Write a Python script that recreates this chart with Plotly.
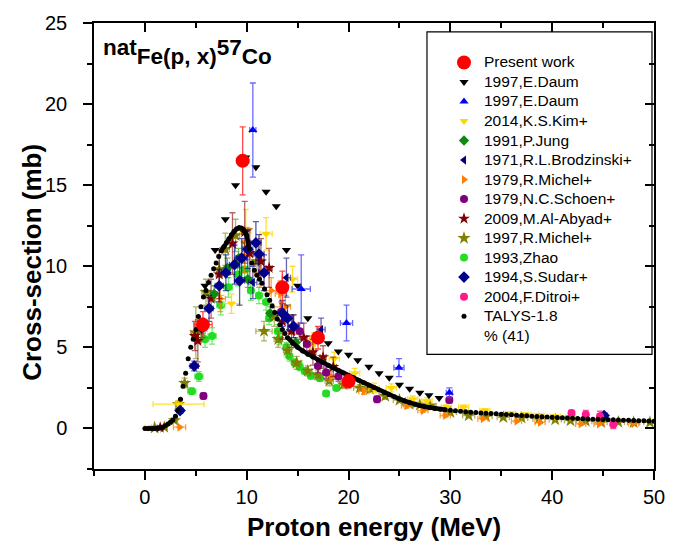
import plotly.graph_objects as go

# ---------------- data ----------------
pw_E = [5.7, 9.6, 13.5, 17.0, 20.0]
pw_S = [6.4, 16.5, 8.7, 5.6, 2.9]
pw_dE = [0.9, 0.6, 0.5, 0.5, 0.4]
pw_dS = [0.8, 2.1, 1.0, 0.7, 0.4]

daum1_E = [5.9, 6.9, 7.9, 8.9, 9.9, 10.9, 11.9, 12.9, 13.9, 15.0, 16.0, 17.0, 18.0, 19.0,
           20.0, 20.9, 22.0, 23.0, 24.0, 25.0, 26.0, 27.0, 27.9, 28.9]
daum1_S = [8.8, 11.0, 12.9, 15.0, 16.7, 16.1, 14.6, 13.7, 11.0, 8.8, 6.8, 5.8, 5.25, 4.75,
           4.55, 4.2, 3.8, 3.4, 3.13, 2.7, 2.45, 2.2, 2.05, 1.88]

daum2_E = [10.6, 15.35, 19.8, 24.95, 29.9]
daum2_S = [18.4, 8.6, 6.5, 3.75, 2.2]
daum2_dE = [0.3, 0.9, 0.6, 0.5, 0.3]
daum2_dS = [2.9, 2.1, 1.1, 0.55, 0.3]

kim_E = [0.3, 3.3, 8.5, 9.9, 11.9, 14.5, 16.6, 18.6, 20.6, 22.5, 24.2, 26.3, 27.7, 29.6,
         31.3, 33.4, 35.9, 37.4, 38.7, 40.3, 41.8]
kim_S = [0.05, 1.5, 7.7, 12.2, 12.0, 9.2, 5.4, 4.3, 3.4, 2.5, 2.5, 1.8, 1.7, 1.3,
         1.3, 1.1, 0.92, 0.86, 0.8, 0.74, 0.7]
kim_dE = [0.3, 2.5, 0.8, 0.5, 0.6, 0.5, 0.5, 0.5, 0.5, 0.5, 0.5, 0.5, 0.5, 0.5,
          0.5, 0.5, 0.5, 0.5, 0.5, 0.5, 0.5]
kim_dS = [0.05, 0.2, 0.6, 1.3, 1.0, 0.8, 0.5, 0.4, 0.3, 0.3, 0.25, 0.2, 0.2, 0.15,
          0.15, 0.12, 0.1, 0.1, 0.1, 0.1, 0.1]

jung_E = [6.8, 8.1, 9.2, 10.1, 12.3, 14.8]
jung_S = [8.3, 9.9, 10.5, 9.2, 7.1, 5.3]
jung_dE = [0.3, 0.3, 0.3, 0.3, 0.3, 0.3]
jung_dS = [0.5, 0.6, 0.6, 0.5, 0.4, 0.3]

brz_E = [10.6, 13.9, 17.3]
brz_S = [9.0, 9.3, 6.1]
brz_dE = [0.4, 0.4, 0.4]
brz_dS = [1.0, 1.2, 0.7]

mic79_E = [3.4, 7.4, 9.8, 11.3, 12.4, 13.3, 13.8, 14.6, 16.2, 18.3, 21.5, 25.7, 27.3, 29.5,
           33.2, 36.5, 38.8, 42.8, 44.6, 48.0]
mic79_S = [0.08, 8.0, 10.6, 9.6, 8.5, 8.3, 7.5, 6.4, 5.2, 3.2, 2.3, 1.4, 1.1, 0.8,
           0.6, 0.45, 0.38, 0.28, 0.28, 0.3]
mic79_dE = [0.6, 0.5, 0.5, 0.5, 0.5, 0.5, 0.5, 0.5, 0.5, 0.5, 0.5, 0.5, 0.5, 0.5,
            0.5, 0.5, 0.5, 0.5, 0.5, 0.5]
mic79_dS = [0.05, 0.8, 1.0, 0.9, 0.8, 0.8, 0.7, 0.6, 0.5, 0.3, 0.2, 0.15, 0.1, 0.08,
            0.06, 0.05, 0.04, 0.03, 0.03, 0.03]

sch_E = [5.75, 13.4, 15.2, 15.9, 17.0, 17.8, 19.0, 22.8, 29.9]
sch_S = [2.0, 7.2, 6.0, 5.2, 3.85, 3.45, 3.2, 1.8, 1.75]
sch_dE = [0.3, 0.3, 0.3, 0.3, 0.3, 0.3, 0.3, 0.3, 0.3]
sch_dS = [0.2, 0.6, 0.5, 0.5, 0.4, 0.35, 0.3, 0.2, 0.2]

aby_E = [1.5, 4.9, 5.2, 6.5, 7.3, 8.6, 9.8, 10.3, 11.4, 12.2, 13.5, 14.4, 15.6, 16.5, 17.5, 18.5]
aby_S = [0.05, 5.7, 5.4, 8.0, 9.5, 11.4, 12.1, 10.8, 10.3, 9.9, 6.6, 6.0, 5.6, 4.7, 4.4, 3.8]
aby_dE = [0.3, 0.3, 0.3, 0.3, 0.3, 0.3, 0.3, 0.3, 0.3, 0.3, 0.3, 0.3, 0.3, 0.3, 0.3, 0.3]
aby_dS = [0.1, 0.9, 1.3, 1.2, 1.5, 1.9, 1.9, 1.5, 1.4, 1.2, 1.1, 1.0, 0.9, 0.8, 0.7, 0.6]

mic97_E = [0.95, 1.9, 2.9, 3.3, 3.9, 5.0, 5.5, 6.0, 7.3, 7.9, 8.9, 10.0, 11.0, 11.7, 12.7,
           13.1, 14.0, 14.9, 16.0, 17.0, 18.1, 19.5, 21.1, 22.1, 23.6, 25.0, 26.0, 27.0, 28.0,
           30.0, 31.8, 33.5, 35.2, 37.0, 38.7, 40.3, 41.8, 43.3, 44.8, 46.5, 48.0, 49.6]
mic97_S = [0.04, 0.08, 0.5, 1.5, 2.8, 5.9, 6.0, 8.4, 9.8, 11.05, 11.9, 11.4, 10.3, 6.0, 6.9,
           5.5, 4.8, 4.05, 3.55, 3.3, 2.93, 2.7, 2.5, 2.42, 2.0, 1.75, 1.5, 1.45, 1.4,
           1.0, 0.8, 0.75, 0.69, 0.65, 0.59, 0.55, 0.49, 0.45, 0.38, 0.4, 0.38, 0.38]
mic97_dE = [0.3, 0.3, 0.3, 0.3, 0.3, 0.5, 0.4, 0.4, 0.5, 0.4, 0.4, 0.4, 0.4, 0.8, 0.4,
            0.4, 0.4, 0.4, 0.4, 0.4, 0.4, 0.4, 0.6, 0.6, 0.6, 0.6, 0.6, 0.6, 0.6,
            0.6, 0.6, 0.6, 0.6, 0.6, 0.6, 0.6, 0.6, 0.6, 0.6, 0.6, 0.6, 0.6]
mic97_dS = [0.02, 0.04, 0.1, 0.2, 0.3, 1.6, 0.6, 0.8, 0.9, 1.0, 1.0, 1.0, 0.9, 0.6, 0.6,
            0.5, 0.4, 0.4, 0.3, 0.3, 0.3, 0.25, 0.2, 0.2, 0.2, 0.15, 0.15, 0.15, 0.15,
            0.1, 0.08, 0.08, 0.07, 0.07, 0.06, 0.06, 0.05, 0.05, 0.04, 0.04, 0.04, 0.04]

zhao_E = [4.6, 5.3, 5.9, 6.6, 7.45, 8.2, 9.1, 9.8, 10.4, 11.2, 11.9, 12.2, 13.05, 13.2, 13.9,
          14.2, 14.7, 15.2, 15.7, 16.3, 17.2, 17.8, 18.8]
zhao_S = [2.3, 3.2, 5.5, 5.7, 7.6, 8.7, 9.5, 9.8, 8.5, 8.2, 7.8, 6.8, 6.0, 5.5, 5.0,
          4.45, 4.05, 3.8, 3.55, 3.25, 3.1, 2.15, 2.5]
zhao_dE = [0.4, 0.4, 0.4, 0.4, 0.4, 0.4, 0.4, 0.4, 0.3, 0.3, 0.3, 0.3, 0.3, 0.3, 0.3,
           0.3, 0.3, 0.3, 0.3, 0.3, 0.3, 0.3, 0.3]
zhao_dS = [0.2, 0.3, 0.5, 0.5, 0.6, 0.6, 0.7, 0.7, 0.6, 0.5, 0.5, 0.4, 0.4, 0.35, 0.3,
           0.3, 0.25, 0.25, 0.2, 0.2, 0.2, 0.15, 0.15]

sud_E = [3.45, 4.85, 5.6, 6.3, 7.3, 7.95, 8.8, 9.3, 9.5, 10.1, 10.9, 11.2, 11.7, 13.5, 14.0,
         14.6, 45.1]
sud_S = [1.1, 3.85, 6.2, 7.4, 8.8, 9.6, 10.1, 9.1, 10.5, 11.05, 11.45, 10.75, 9.6, 7.1, 6.8,
         6.3, 0.8]
sud_dE = [0.3, 0.4, 0.4, 0.4, 0.4, 0.4, 0.5, 0.5, 0.5, 0.5, 0.5, 0.5, 0.5, 0.5, 0.5, 0.5, 0.3]
sud_dS = [0.15, 0.3, 0.6, 0.8, 1.0, 1.1, 1.2, 1.5, 1.2, 1.2, 1.3, 1.2, 1.1, 0.8, 0.8, 0.7, 0.1]

dit_E = [41.9, 43.3, 44.7, 46.0]
dit_S = [0.96, 0.86, 0.76, 0.24]
dit_dE = [0.2, 0.2, 0.2, 0.2]
dit_dS = [0.15, 0.25, 0.3, 0.25]

talys_E = [0.0, 0.25, 0.5, 0.75, 1.0, 1.25, 1.5, 1.75, 2.0, 2.25, 2.5, 2.75, 3.0, 3.25, 3.5,
           3.75, 4.0, 4.25, 4.5, 4.75, 5.0, 5.25, 5.5, 5.75, 6.0, 6.25, 6.5, 6.75, 7.0, 7.25,
           7.5, 7.75, 8.0, 8.25, 8.5, 8.75, 9.0, 9.25, 9.5, 9.75, 10.0, 10.25, 10.5, 10.75,
           11.0, 11.25, 11.5, 11.75, 12.0, 12.25, 12.5, 12.75, 13.0, 13.25, 13.5, 13.75, 14.0,
           14.5, 15.0, 15.5, 16.0, 16.5, 17.0, 17.5, 18.0, 18.5, 19.0, 19.5, 20.0, 20.5, 21.0,
           21.5, 22.0, 22.5, 23.0, 23.5, 24.0, 24.5, 25.0, 25.5, 26.0, 26.5, 27.0, 27.5, 28.0,
           28.5, 29.0, 29.5, 30.0, 30.5, 31.0, 31.5, 32.0, 32.5, 33.0, 33.5, 34.0, 34.5, 35.0,
           35.5, 36.0, 36.5, 37.0, 37.5, 38.0, 38.5, 39.0, 39.5, 40.0, 40.5, 41.0, 41.5, 42.0,
           42.5, 43.0, 43.5, 44.0, 44.5, 45.0, 45.5, 46.0, 46.5, 47.0, 47.5, 48.0, 48.5, 49.0,
           49.5, 50.0]
talys_S = [0.0, 0.0, 0.0, 0.0, 0.0, 0.01, 0.03, 0.08, 0.17, 0.27, 0.38, 0.52, 0.75, 1.1, 1.8,
           2.6, 3.4, 4.3, 5.0, 5.5, 6.1, 6.9, 7.5, 8.1, 8.5, 9.0, 9.45, 9.85, 10.2, 10.6,
           10.95, 11.2, 11.45, 11.7, 11.95, 12.15, 12.3, 12.38, 12.35, 12.2, 11.9, 11.1, 10.2, 9.75,
           9.45, 9.2, 8.95, 8.6, 8.25, 7.9, 7.55, 7.15, 6.75, 6.4, 6.1, 5.85, 5.6,
           5.25, 5.0, 4.78, 4.58, 4.4, 4.22, 4.06, 3.9, 3.73, 3.57, 3.42, 3.27, 3.12, 2.97,
           2.82, 2.67, 2.52, 2.37, 2.22, 2.08, 1.95, 1.82, 1.7, 1.59, 1.49, 1.41, 1.34, 1.28,
           1.23, 1.19, 1.15, 1.12, 1.09, 1.06, 1.03, 1.0, 0.98, 0.96, 0.94, 0.92, 0.9, 0.88,
           0.86, 0.84, 0.82, 0.8, 0.78, 0.76, 0.74, 0.72, 0.7, 0.69, 0.67, 0.66, 0.64, 0.63,
           0.61, 0.6, 0.59, 0.57, 0.56, 0.55, 0.54, 0.53, 0.52, 0.51, 0.5, 0.49, 0.48, 0.47,
           0.46, 0.45]
# energy ranges in which the TALYS points are so dense that they form a solid curve
talys_dense = [(7.5, 10.25), (14.0, 29.5)]

x_ticks = [0, 10, 20, 30, 40, 50]
y_ticks = [0, 5, 10, 15, 20, 25]

# ---------------- figure ----------------
FONT = "Liberation Sans, Arial, Helvetica, sans-serif"
LEG = 15.5  # legend text px
TITLE = 22.5


def lname(s):
    return '<span style="font-size:%spx">%s</span>' % (LEG, s)


fig = go.Figure()


def add(name, E, S, dE, dS, symbol, color, size, ecol, rank):
    fig.add_trace(go.Scatter(
        x=E, y=S, mode="markers", name=lname(name), legendrank=rank,
        marker=dict(symbol=symbol, color=color, size=size, line=dict(width=0)),
        error_x=dict(type="data", array=dE, color=ecol, thickness=1.3, width=3,
                     visible=dE is not None),
        error_y=dict(type="data", array=dS, color=ecol, thickness=1.3, width=3,
                     visible=dS is not None),
        hoverinfo="skip"))


add("1993,Zhao", zhao_E, zhao_S, zhao_dE, zhao_dS, "circle", "#22dd22", 8,
    "rgba(60,230,60,0.75)", 11)
add("1997,R.Michel+", mic97_E, mic97_S, mic97_dE, mic97_dS, "star", "#808000", 10,
    "rgba(128,128,0,0.6)", 10)
add("1979,R.Michel+", mic79_E, mic79_S, mic79_dE, mic79_dS, "triangle-right", "#ff8000", 8,
    "rgba(255,128,0,0.75)", 7)
add("2014,K.S.Kim+", kim_E, kim_S, kim_dE, kim_dS, "triangle-down", "#ffd700", 8,
    "rgba(255,215,0,0.8)", 4)
add("1979,N.C.Schoen+", sch_E, sch_S, sch_dE, sch_dS, "circle", "#800080", 8,
    "rgba(128,0,128,0.6)", 8)
add("2009,M.Al-Abyad+", aby_E, aby_S, aby_dE, aby_dS, "star", "#800000", 9,
    "rgba(128,0,0,0.6)", 9)
add("1991,P.Jung", jung_E, jung_S, jung_dE, jung_dS, "diamond", "#118811", 8,
    "rgba(17,136,17,0.6)", 5)
add("1971,R.L.Brodzinski+", brz_E, brz_S, brz_dE, brz_dS, "triangle-left", "#000080", 8,
    "rgba(0,0,128,0.6)", 6)
add("1994,S.Sudar+", sud_E, sud_S, sud_dE, sud_dS, "diamond", "#00008b", 9,
    "rgba(0,0,139,0.65)", 12)
add("2004,F.Ditroi+", dit_E, dit_S, dit_dE, dit_dS, "circle", "#ff1a8c", 8,
    "rgba(255,26,140,0.75)", 13)

# TALYS: solid segment where the points are dense, then the dots themselves
line_x, line_y = [], []
for lo, hi in talys_dense:
    for e, s in zip(talys_E, talys_S):
        if lo <= e <= hi:
            line_x.append(e)
            line_y.append(s)
    line_x.append(None)
    line_y.append(None)
fig.add_trace(go.Scatter(x=line_x, y=line_y, mode="lines", showlegend=False,
                         line=dict(color="black", width=4.5), hoverinfo="skip"))
fig.add_trace(go.Scatter(x=talys_E, y=talys_S, mode="markers", name=lname("TALYS-1.8"),
                         legendrank=14, marker=dict(color="black", size=5), hoverinfo="skip"))

add("1997,E.Daum", daum1_E, daum1_S, None, None, "triangle-down", "black", 8, "black", 2)
add("1997,E.Daum", daum2_E, daum2_S, daum2_dE, daum2_dS, "triangle-up", "#0000ff", 8,
    "rgba(70,70,255,0.8)", 3)
add("Present work", pw_E, pw_S, pw_dE, pw_dS, "circle", "#ff0000", 14,
    "rgba(255,40,40,0.85)", 1)

fig.add_trace(go.Scatter(x=[None], y=[None], mode="markers", name=lname("% (41)"),
                         legendrank=15, marker=dict(color="rgba(0,0,0,0)", size=1)))

# helper traces for mirrored (inside) ticks on top and right
fig.add_trace(go.Scatter(x=[None], y=[None], xaxis="x2", yaxis="y", showlegend=False))
fig.add_trace(go.Scatter(x=[None], y=[None], xaxis="x", yaxis="y2", showlegend=False))

axis_common = dict(showgrid=False, zeroline=False, showline=True, linecolor="black",
                   linewidth=1.5, tickcolor="black", tickwidth=1.5, ticklen=9)

fig.update_layout(
    width=680, height=549,
    margin=dict(l=94, r=26, t=18, b=80),
    paper_bgcolor="white", plot_bgcolor="white",
    font=dict(family=FONT, color="black"),
    showlegend=True,
    legend=dict(x=0.625, y=0.9445, xanchor="left", yanchor="top",
                bgcolor="rgba(0,0,0,0)", borderwidth=0, font=dict(size=12.7, family=FONT),
                itemsizing="trace", traceorder="normal"),
    xaxis=dict(range=[-5, 50], tickvals=x_ticks, ticks="outside",
               tickfont=dict(size=20), ticklabelstandoff=0,
               minor=dict(dtick=5, tick0=0, ticks="outside", ticklen=5, tickcolor="black",
                          tickwidth=1.5),
               **axis_common),
    yaxis=dict(range=[-2.5, 25], tickvals=y_ticks, ticks="outside",
               tickfont=dict(size=20), ticklabelstandoff=12,
               minor=dict(dtick=2.5, tick0=0, ticks="outside", ticklen=5, tickcolor="black",
                          tickwidth=1.5),
               **axis_common),
    xaxis2=dict(range=[-5, 50], overlaying="x", side="top", anchor="y", tickvals=x_ticks,
                ticks="inside", showticklabels=False,
                minor=dict(dtick=5, tick0=0, ticks="inside", ticklen=5, tickcolor="black",
                           tickwidth=1.5),
                **axis_common),
    yaxis2=dict(range=[-2.5, 25], overlaying="y", side="right", anchor="x", tickvals=y_ticks,
                ticks="inside", showticklabels=False,
                minor=dict(dtick=2.5, tick0=0, ticks="inside", ticklen=5, tickcolor="black",
                           tickwidth=1.5),
                **axis_common),
    shapes=[dict(type="rect", xref="paper", yref="paper", x0=0.5946, x1=0.9964,
                 y0=0.2572, y1=0.980, line=dict(color="black", width=1.2),
                 fillcolor="rgba(0,0,0,0)", layer="above")],
    annotations=[
        dict(xref="paper", yref="paper", x=0.012, y=0.977, xanchor="left", yanchor="top",
             showarrow=False, font=dict(size=TITLE, family=FONT),
             text='<b><sup><span style="font-size:%spx">nat</span></sup>Fe(p, x)'
                  '<sup><span style="font-size:%spx">57</span></sup>Co</b>' % (TITLE, TITLE)),
        dict(xref="paper", yref="paper", x=0.5, y=-0.131, xanchor="center", yanchor="middle",
             showarrow=False, font=dict(size=26, family=FONT),
             text="<b>Proton energy (MeV)</b>"),
        dict(xref="paper", yref="paper", x=-0.112, y=0.463, xanchor="center", yanchor="middle",
             showarrow=False, font=dict(size=26, family=FONT), textangle=-90,
             text="<b>Cross-section (mb)</b>"),
    ],
)

fig.write_html("out.html", config={"displayModeBar": False},
               post_script="document.body.style.margin='0px';")
